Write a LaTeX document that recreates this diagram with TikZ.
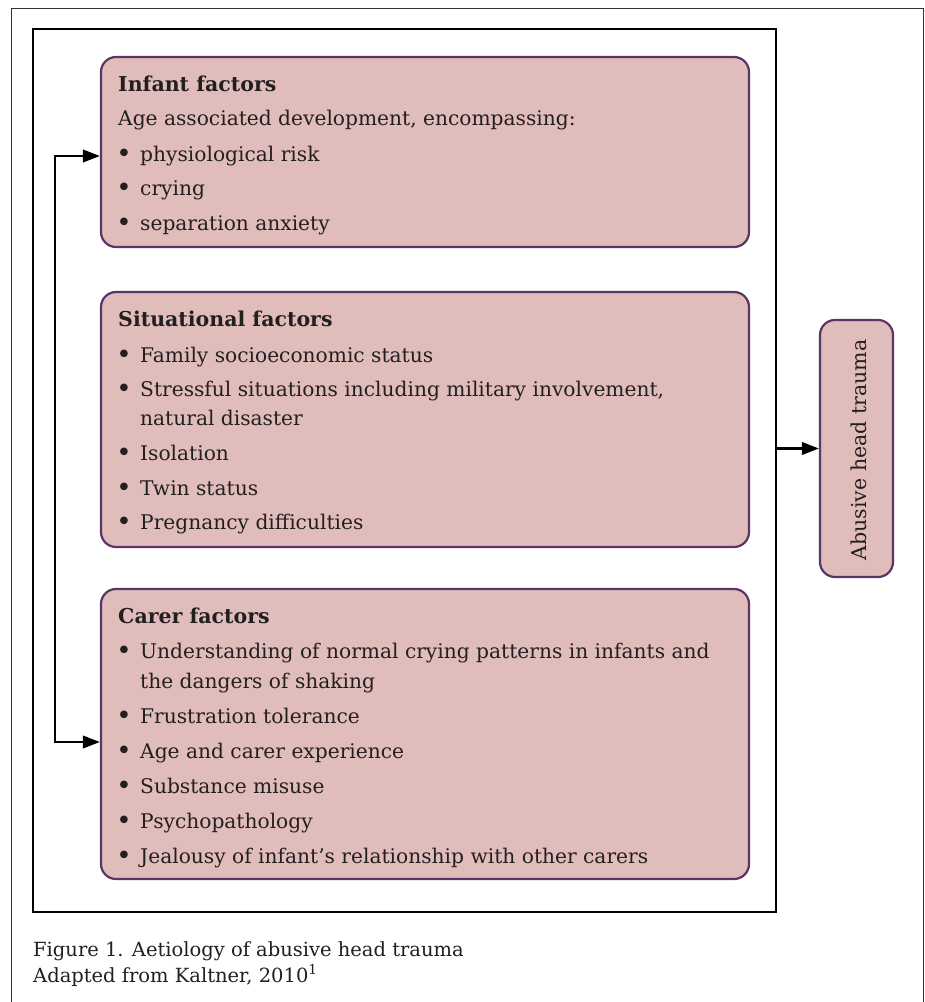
\documentclass[tikz,border=0pt]{standalone}
\usepackage{fontspec}
\setmainfont{DejaVu Serif}
\usetikzlibrary{arrows.meta}
\definecolor{boxfill}{RGB}{224,189,186}
\definecolor{boxline}{RGB}{92,52,104}
\definecolor{txt}{RGB}{35,31,32}
\tikzset{
  factorbox/.style={draw=boxline, fill=boxfill, line width=2.2pt, rounded corners=15pt, inner sep=0pt},
  frame/.style={draw=black, line width=2.6pt, inner sep=0pt},
  ln/.style={anchor=base west, inner sep=0pt, text=txt, font=\fontsize{20.2}{24}\selectfont},
  hd/.style={ln, font=\fontsize{20.5}{24}\selectfont\bfseries},
  bul/.style={anchor=center, inner sep=0pt, text=txt, font=\fontsize{26}{26}\selectfont, yshift=5pt},
  captext/.style={ln, font=\fontsize{19.5}{24}\selectfont},
  arr/.style={line width=2.2pt, -{Triangle[length=17pt,width=12.5pt]}},
  darr/.style={line width=2.2pt, {Triangle[length=17pt,width=12.5pt]}-{Triangle[length=17pt,width=12.5pt]}},
}
\begin{document}
\begin{tikzpicture}[x=1pt,y=-1pt]
\useasboundingbox (0,0) rectangle (925,1002);
\fill[white] (0,0) rectangle (925,1002);
% outer thin frame
\draw[line width=1pt, black!80] (11,1002) -- (11,8) -- (923.5,8) -- (923.5,1002);
% inner thick frame
\node[frame, minimum width=743pt, minimum height=883pt] (fr) at (404.5,470.5) {};
% boxes
\node[factorbox, minimum width=648pt, minimum height=190pt] (inf) at (425,152) {};
\node[factorbox, minimum width=648pt, minimum height=255pt] (sit) at (425,419.5) {};
\node[factorbox, minimum width=648pt, minimum height=290pt] (car) at (425,734) {};
\node[factorbox, minimum width=73pt, minimum height=257pt] (aht) at (856.5,448.5) {};
\node[anchor=center, rotate=90, inner sep=0pt, text=txt, font=\fontsize{20.5}{24}\selectfont] (ahtt) at (859,450) {Abusive head trauma};
% infant text
\node[hd] (i0) at (118,91) {Infant factors};
\node[ln] (i1) at (118,125) {Age associated development, encompassing:};
\node[bul] (ib2) at (124,161) {•}; \node[ln] (i2) at (140,161) {physiological risk};
\node[bul] (ib3) at (124,195) {•}; \node[ln] (i3) at (140,195) {crying};
\node[bul] (ib4) at (124,230) {•}; \node[ln] (i4) at (140,230) {separation anxiety};
% situational text
\node[hd] (s0) at (118,326) {Situational factors};
\node[bul] (sb1) at (124,362) {•}; \node[ln] (s1) at (140,362) {Family socioeconomic status};
\node[bul] (sb2) at (124,396) {•}; \node[ln] (s2) at (140,396) {Stressful situations including military involvement,};
\node[ln] (s2b) at (140,425) {natural disaster};
\node[bul] (sb3) at (124,460) {•}; \node[ln] (s3) at (140,460) {Isolation};
\node[bul] (sb4) at (124,495) {•}; \node[ln] (s4) at (140,495) {Twin status};
\node[bul] (sb5) at (124,529) {•}; \node[ln] (s5) at (140,529) {Pregnancy difficulties};
% carer text
\node[hd] (c0) at (118,623) {Carer factors};
\node[bul] (cb1) at (124,658) {•}; \node[ln] (c1) at (140,658) {Understanding of normal crying patterns in infants and};
\node[ln] (c1b) at (140,688) {the dangers of shaking};
\node[bul] (cb2) at (124,723) {•}; \node[ln] (c2) at (140,723) {Frustration tolerance};
\node[bul] (cb3) at (124,758) {•}; \node[ln] (c3) at (140,758) {Age and carer experience};
\node[bul] (cb4) at (124,793) {•}; \node[ln] (c4) at (140,793) {Substance misuse};
\node[bul] (cb5) at (124,828) {•}; \node[ln] (c5) at (140,828) {Psychopathology};
\node[bul] (cb6) at (124,863) {•}; \node[ln] (c6) at (140,863) {Jealousy of infant’s relationship with other carers};
% connectors
\coordinate (lt) at (55,156);
\coordinate (lb) at (55,742);
\draw[darr] (inf.west |- lt) -- (lt) -- (lb) -- (car.west |- lb);
\draw[arr] (fr.east |- aht.west) -- (aht.west);
% caption
\node[captext] (cap1) at (33,956) {Figure 1. Aetiology of abusive head trauma};
\node[captext] (cap2) at (33,982) {Adapted from Kaltner, 2010\textsuperscript{1}};
\end{tikzpicture}
\end{document}
